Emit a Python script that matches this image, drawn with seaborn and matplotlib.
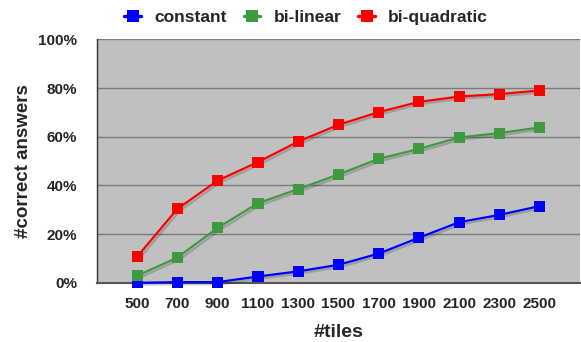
import matplotlib
matplotlib.use("Agg")
import matplotlib.pyplot as plt
import matplotlib.patheffects as pe
import seaborn as sns
import pandas as pd
from matplotlib.ticker import MultipleLocator, FuncFormatter

tiles = [500, 700, 900, 1100, 1300, 1500, 1700, 1900, 2100, 2300, 2500]
constant = [0.0, 0.3, 0.3, 2.6, 4.7, 7.4, 12.0, 18.5, 24.9, 27.9, 31.5]
bilinear = [2.9, 10.4, 22.6, 32.7, 38.5, 44.5, 50.9, 55.0, 59.7, 61.5, 63.8]
biquadratic = [10.8, 30.4, 42.0, 49.6, 58.0, 64.9, 70.1, 74.3, 76.5, 77.5, 79.0]
series_names = ["constant", "bi-linear", "bi-quadratic"]
colors = ["#0000ff", "#3f9a3f", "#ff0000"]

df = pd.concat([
    pd.DataFrame({"tiles": tiles, "value": v, "method": n})
    for v, n in zip([constant, bilinear, biquadratic], series_names)
])

sns.set_style("white")
plt.rcParams["font.family"] = ["Liberation Sans", "DejaVu Sans"]
plt.rcParams["font.weight"] = "bold"

fig = plt.figure(figsize=(5.81, 3.42), dpi=100)
ax = fig.add_axes([0.167, 0.173, 0.831, 0.712])
ax.set_facecolor("#c0c0c0")

sns.lineplot(data=df, x="tiles", y="value", hue="method", hue_order=series_names,
             palette=colors, marker="s", markersize=8, markeredgewidth=0,
             linewidth=1.6, ax=ax, legend=False, zorder=5)
for ln in ax.lines:
    ln.set_clip_on(False)
    ln.set_path_effects([pe.SimpleLineShadow(offset=(1.5, -1.5), alpha=0.18, shadow_color="black"), pe.Normal()])

ax.set_xlim(300, 2700)
ax.set_ylim(0, 100)
ax.set_xticks(tiles + [2700])
ax.set_xticklabels([str(t) for t in tiles] + [""])
ax.yaxis.set_major_locator(MultipleLocator(20))
ax.yaxis.set_minor_locator(MultipleLocator(10))
ax.yaxis.set_major_formatter(FuncFormatter(lambda v, p: f"{int(v)}%"))
ax.grid(axis="y", which="major", color="#7a7a7a", linewidth=1.0, zorder=1)
ax.set_axisbelow(True)

for s in ["top", "right"]:
    ax.spines[s].set_visible(False)
ax.spines["left"].set_color("#333333")
ax.spines["left"].set_linewidth(1.0)
ax.spines["bottom"].set_color("#555555")
ax.spines["bottom"].set_linewidth(1.5)
ax.spines["bottom"].set_zorder(4)

ax.tick_params(axis="x", which="major", direction="inout", length=5, width=1, color="#333333",
               labelsize=11, pad=8)
ax.tick_params(axis="y", which="major", direction="inout", length=5, width=1, color="#333333",
               labelsize=11, pad=12)
ax.tick_params(axis="y", which="minor", direction="inout", length=4, width=1, color="#333333")
for lbl in ax.get_xticklabels() + ax.get_yticklabels():
    lbl.set_fontweight("bold")

ax.set_xlabel("#tiles", fontsize=14, fontweight="bold", labelpad=9)
ax.set_ylabel("#correct answers", fontsize=13.5, fontweight="bold", labelpad=4)

handles = [plt.Line2D([], [], color=c, marker="s", markersize=8, linewidth=2.5, markeredgewidth=0)
           for c in colors]
leg = fig.legend(handles, series_names, loc="center", bbox_to_anchor=(0.527, 0.948), ncol=3,
                 frameon=False, prop={"weight": "bold", "size": 12.5}, handlelength=0.95,
                 handletextpad=0.75, columnspacing=1.0)

fig.savefig("out.png", dpi=100)
